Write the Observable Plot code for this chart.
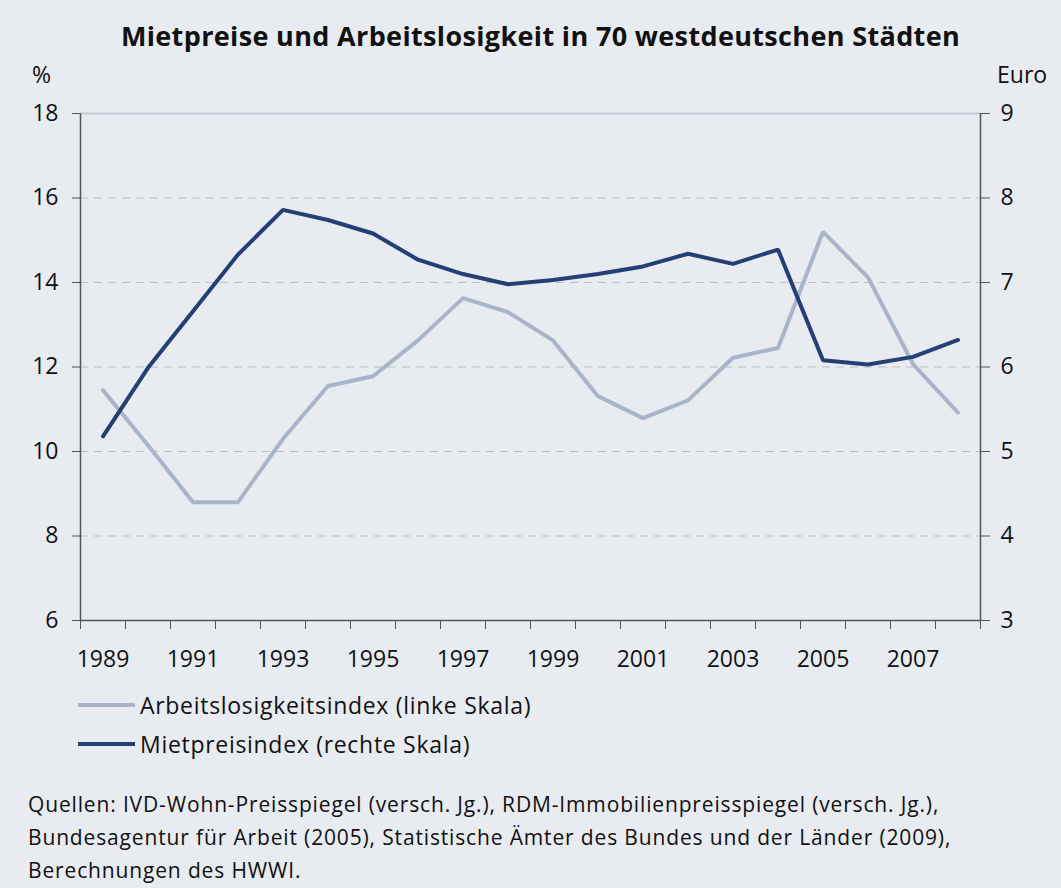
<!DOCTYPE html>
<html><head><meta charset="utf-8">
<script src="https://cdn.jsdelivr.net/npm/d3@7"></script>
<script src="https://cdn.jsdelivr.net/npm/@observablehq/plot@0.6"></script>
<style>
html,body{margin:0;padding:0;background:#e8ebf0;}
body{width:1061px;height:888px;position:relative;overflow:hidden;font-family:"Open Sans",sans-serif;color:#111;}
#chart{position:absolute;left:0;top:0;}
.abs{position:absolute;white-space:nowrap;}
#title{left:0;width:1081px;top:17px;text-align:center;font-weight:bold;font-size:27px;letter-spacing:0.35px;}
.unit{top:58px;font-size:23px;}
.leg{left:78px;font-size:23px;letter-spacing:0.7px;display:flex;align-items:center;}
.sw{width:57px;height:4px;margin-right:5px;}
#cap{left:28px;top:788px;font-size:21px;letter-spacing:0.85px;line-height:33px;}
</style></head>
<body>
<div id="chart"></div>
<div id="title" class="abs">Mietpreise und Arbeitslosigkeit in 70 westdeutschen Städten</div>
<div class="abs unit" style="left:32px">%</div>
<div class="abs unit" style="left:997px">Euro</div>
<div class="abs leg" style="top:689px"><div class="sw" style="background:#a9b4c8"></div>Arbeitslosigkeitsindex (linke Skala)</div>
<div class="abs leg" style="top:728px"><div class="sw" style="background:#243f73"></div>Mietpreisindex (rechte Skala)</div>
<div id="cap" class="abs">Quellen: IVD-Wohn-Preisspiegel (versch. Jg.), RDM-Immobilienpreisspiegel (versch. Jg.),<br>Bundesagentur für Arbeit (2005), Statistische Ämter des Bundes und der Länder (2009),<br>Berechnungen des HWWI.</div>
<script>
const years = [1989,1990,1991,1992,1993,1994,1995,1996,1997,1998,1999,2000,2001,2002,2003,2004,2005,2006,2007,2008];
const arbeitslosigkeit = [11.45,10.15,8.8,8.8,10.3,11.55,11.78,12.63,13.63,13.3,12.63,11.31,10.79,11.21,12.22,12.45,15.2,14.12,12.07,10.92];
const mietpreis = [5.18,5.99,6.66,7.33,7.86,7.74,7.58,7.27,7.1,6.98,7.03,7.1,7.19,7.34,7.22,7.39,6.08,6.03,6.12,6.32];
const xTickLabels = [1989,1991,1993,1995,1997,1999,2001,2003,2005,2007];
const leftTicks = [6,8,10,12,14,16,18];
const rightTicks = [3,4,5,6,7,8,9];

const toLeft = v => 6 + (v - 3) * 2;
const dataA = years.map((y,i) => ({year:y, v:arbeitslosigkeit[i]}));
const dataM = years.map((y,i) => ({year:y, v:toLeft(mietpreis[i])}));
const boundaries = d3.range(years[0]-0.5, years[years.length-1]+1, 1);

const chart = Plot.plot({
  width:1061, height:690,
  marginTop:113, marginBottom:70, marginLeft:80, marginRight:81,
  style:{background:"transparent", fontFamily:"'Open Sans',sans-serif", fontSize:"23px", color:"#111"},
  x:{domain:[years[0]-0.5, years[years.length-1]+0.5]},
  y:{domain:[6,18]},
  marks:[
    Plot.gridY([8,10,12,14,16], {stroke:"#b9bfcb", strokeOpacity:1, strokeDasharray:"8,6", strokeWidth:1}),
    Plot.ruleY([18], {stroke:"#c3c9d4", strokeWidth:2}),
    Plot.axisX(boundaries, {tickSize:9, tickFormat:()=>"", stroke:"#555", label:null}),
    Plot.axisX(xTickLabels, {tickSize:0, tickPadding:30, tickFormat:d=>String(d), fill:"#111", label:null, fontSize:23}),
    Plot.axisY(leftTicks, {anchor:"left", tickSize:8, tickPadding:14, stroke:"#555", fill:"#111", label:null, fontSize:23}),
    Plot.axisY(rightTicks.map(toLeft), {anchor:"right", tickSize:9, tickPadding:11, stroke:"#555", fill:"#111", label:null, fontSize:23, tickFormat:d=>String((d-6)/2+3)}),
    Plot.ruleX([years[0]-0.5, years[years.length-1]+0.5], {stroke:"#555", strokeWidth:1.5}),
    Plot.ruleY([6], {stroke:"#555", strokeWidth:1.5}),
    Plot.line(dataA, {x:"year", y:"v", stroke:"#a9b4c8", strokeWidth:4, strokeLinejoin:"miter"}),
    Plot.line(dataM, {x:"year", y:"v", stroke:"#243f73", strokeWidth:4, strokeLinejoin:"miter"})
  ]
});
document.getElementById("chart").appendChild(chart);
</script>
</body></html>
